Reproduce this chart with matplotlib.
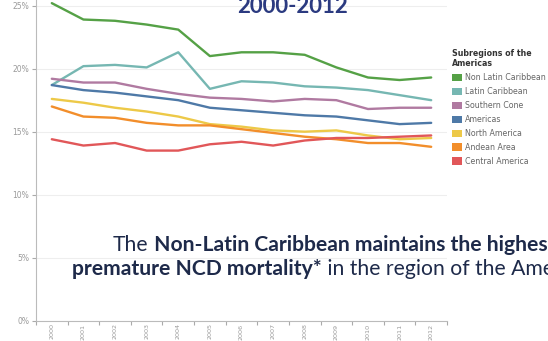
import matplotlib
matplotlib.use('Agg')
import matplotlib.pyplot as plt
from matplotlib.patches import Patch

# data (premature NCD mortality, %)
years = list(range(2000, 2013))

regions = ['Non Latin Caribbean', 'Latin Caribbean', 'Southern Cone', 'Americas',
           'North America', 'Andean Area', 'Central America']

non_latin_caribbean = [25.2, 23.9, 23.8, 23.5, 23.1, 21.0, 21.3, 21.3, 21.1, 20.1, 19.3, 19.1, 19.3]
latin_caribbean     = [18.7, 20.2, 20.3, 20.1, 21.3, 18.4, 19.0, 18.9, 18.6, 18.5, 18.3, 17.9, 17.5]
southern_cone       = [19.2, 18.9, 18.9, 18.4, 18.0, 17.7, 17.6, 17.4, 17.6, 17.5, 16.8, 16.9, 16.9]
americas            = [18.7, 18.3, 18.1, 17.8, 17.5, 16.9, 16.7, 16.5, 16.3, 16.2, 15.9, 15.6, 15.7]
north_america       = [17.6, 17.3, 16.9, 16.6, 16.2, 15.6, 15.4, 15.1, 15.0, 15.1, 14.7, 14.4, 14.5]
andean_area         = [17.0, 16.2, 16.1, 15.7, 15.5, 15.5, 15.2, 14.9, 14.6, 14.4, 14.1, 14.1, 13.8]
central_america     = [14.4, 13.9, 14.1, 13.5, 13.5, 14.0, 14.2, 13.9, 14.3, 14.5, 14.5, 14.6, 14.7]

series = [non_latin_caribbean, latin_caribbean, southern_cone, americas,
          north_america, andean_area, central_america]
colors = ['#55a146', '#76b7b2', '#b07aa1', '#4e79a7', '#edc948', '#f28e2b', '#e15759']

y_ticks = [0, 5, 10, 15, 20, 25]
y_tick_labels = ['0%', '5%', '10%', '15%', '20%', '25%']

W, H = 548, 341
fig = plt.figure(figsize=(W / 100, H / 100), dpi=100)

# axes placed in pixel terms: left spine x=36, right x=447, bottom y=320.7, top = figure top
ax = fig.add_axes([36 / W, (H - 320.7) / H, (447 - 36) / W, 320.7 / H])

for vals, c in zip(series, colors):
    ax.plot(years, vals, color=c, linewidth=1.7, solid_capstyle='round', zorder=3)

ax.set_xlim(1999.5, 2012.5)
ax.set_ylim(0, 25.45)

ax.set_yticks(y_ticks)
ax.set_yticklabels(y_tick_labels)
ax.set_xticks([y - 0.5 for y in years] + [2012.5])
ax.set_xticklabels([])
ax.set_xticks(years, minor=True)
ax.set_xticklabels([str(y) for y in years], minor=True, rotation=90, va='top')
ax.tick_params(axis='x', which='minor', length=0, labelsize=4.6, labelcolor='#9a9a9a', pad=2)
ax.tick_params(axis='x', which='major', length=3, color='#aaaaaa')
ax.tick_params(axis='y', length=3, color='#aaaaaa', labelsize=5.5, labelcolor='#9a9a9a', pad=2)

ax.grid(axis='y', color='#eeeeee', linewidth=0.8, zorder=0)
for side in ['top', 'right']:
    ax.spines[side].set_visible(False)
for side in ['left', 'bottom']:
    ax.spines[side].set_color('#bbbbbb')
    ax.spines[side].set_linewidth(0.8)

# legend
handles = [Patch(facecolor=c, edgecolor='none') for c in colors]
leg = fig.legend(handles, regions, title='Subregions of the\nAmericas',
                 loc='upper left', bbox_to_anchor=(452 / W, 1 - 49 / H),
                 frameon=False, fontsize=5.7, title_fontsize=5.7,
                 handlelength=1.2, handleheight=1.05, handletextpad=0.45,
                 labelspacing=0.62, borderaxespad=0, borderpad=0, alignment='left')
for t in leg.get_texts():
    t.set_color('#666666')
leg.get_title().set_color('#333333')
leg.get_title().set_fontweight('semibold')

# overlaid slide text
fig.text(292 / W, 1 - 13 / H, '2000-2012', ha='center', va='baseline',
         fontsize=16, fontweight='bold', color='#2b3a80', family='Lato')

navy = '#1e2a4a'
fs = 15.2
t1 = fig.text(113 / W, 1 - 251 / H, 'The', fontsize=fs, color=navy, family='Lato')
ax.annotate(' Non-Latin Caribbean maintains the highest', xy=(1, 0), xycoords=t1,
            va='bottom', fontsize=fs, fontweight='bold', color=navy, family='Lato',
            annotation_clip=False)
t3 = fig.text(72 / W, 1 - 275 / H, 'premature NCD mortality*', fontsize=fs,
              fontweight='bold', color=navy, family='Lato')
ax.annotate(' in the region of the Americas', xy=(1, 0), xycoords=t3,
            va='bottom', fontsize=fs, color=navy, family='Lato',
            annotation_clip=False)

fig.savefig('out.png', dpi=100)
